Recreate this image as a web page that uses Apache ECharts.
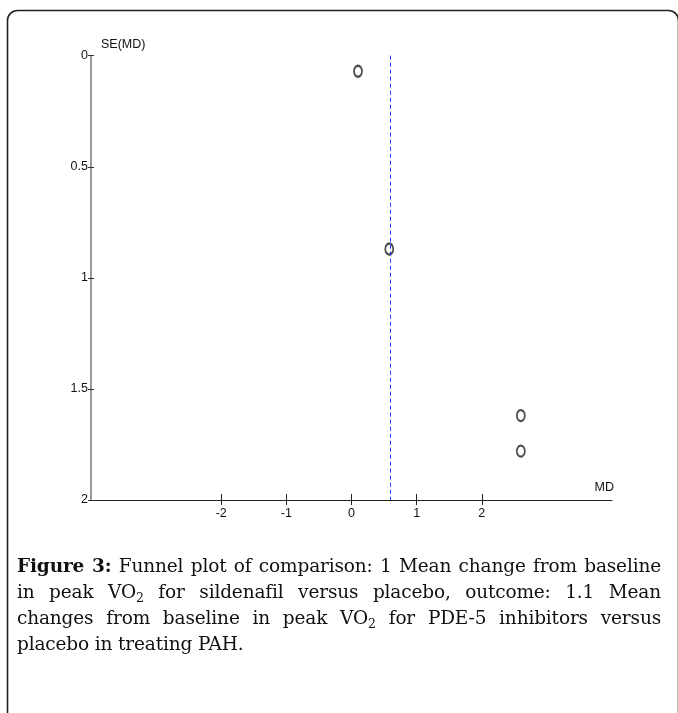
<!DOCTYPE html>
<html>
<head>
<meta charset="utf-8">
<script src="https://cdn.jsdelivr.net/npm/echarts@6/dist/echarts.min.js"></script>
<style>
  html, body { margin: 0; padding: 0; background: #fff; }
  #wrap { position: relative; width: 678px; height: 713px; overflow: hidden; }
  #chart { position: absolute; left: 0; top: 0; width: 678px; height: 713px; }
  #caption { position: absolute; left: 17px; top: 553px; width: 644px;
    font-family: "DejaVu Serif", "Liberation Serif", serif; font-size: 18.5px; line-height: 26px; color: #111; letter-spacing: -0.15px; }
  #caption .ln { text-align: justify; text-align-last: justify; display: block; white-space: nowrap; }
  #caption .last { text-align: left; text-align-last: left; }
  #caption sub { font-size: 0.68em; line-height: 0; vertical-align: -0.35em; }
</style>
</head>
<body>
<div id="wrap">
  <div id="chart"></div>
  <div id="caption">
    <div class="ln"><b>Figure 3:</b> Funnel plot of comparison: 1 Mean change from baseline</div>
    <div class="ln">in peak VO<sub>2</sub> for sildenafil versus placebo, outcome: 1.1 Mean</div>
    <div class="ln">changes from baseline in peak VO<sub>2</sub> for PDE-5 inhibitors versus</div>
    <div class="ln last">placebo in treating PAH.</div>
  </div>
</div>
<script>
// Study estimates: mean difference (MD) and its standard error SE(MD)
const md = [0.1, 0.58, 2.6, 2.6];
const se = [0.07, 0.87, 1.62, 1.78];
// Pooled (fixed-effect) mean difference shown as dashed line
const pooledMD = 0.6;
// Axis tick values
const xTicks = [-2, -1, 0, 1, 2];
const yTicks = [0, 0.5, 1, 1.5, 2];
const xRange = [-4, 4];
const yRange = [0, 2];

const points = md.map((v, i) => [v, se[i]]);
const axisFont = { fontFamily: "'Liberation Sans Narrow', 'Liberation Sans', Arial, sans-serif", fontSize: 12.5, color: '#111' };

const chart = echarts.init(document.getElementById('chart'), null, { renderer: 'canvas' });
chart.setOption({
  animation: false,
  backgroundColor: '#fff',
  grid: { left: 91, right: 66, top: 55.7, bottom: 213, containLabel: false },
  graphic: [{
    type: 'rect', left: 5, top: 8, silent: true, z: 0,
    shape: { x: 0, y: 0, width: 671, height: 740, r: 10 },
    style: { fill: 'none', stroke: '#222', lineWidth: 1.6 }
  }],
  xAxis: [{
    type: 'value', min: xRange[0], max: xRange[1], interval: 1, position: 'bottom',
    name: 'MD', nameLocation: 'end', nameGap: 2,
    nameTextStyle: Object.assign({}, axisFont, { align: 'right', verticalAlign: 'bottom', padding: [0, 0, 6, 0] }),
    axisLine: { show: true, onZero: false, lineStyle: { color: '#222', width: 1.2 } },
    axisTick: { show: true, inside: false, length: 5, customValues: xTicks, lineStyle: { color: '#222', width: 1 } },
    axisLabel: Object.assign({}, axisFont, { show: true, margin: 7, customValues: xTicks }),
    splitLine: { show: false }
  }, {
    type: 'value', min: xRange[0], max: xRange[1], interval: 1, position: 'bottom',
    axisLine: { show: false, onZero: false },
    axisTick: { show: true, inside: true, length: 6, customValues: xTicks, lineStyle: { color: '#222', width: 1 } },
    axisLabel: { show: false },
    splitLine: { show: false }
  }],
  yAxis: [{
    type: 'value', inverse: true, min: yRange[0], max: yRange[1], interval: 0.5, position: 'left',
    name: 'SE(MD)', nameLocation: 'start', nameGap: 3,
    nameTextStyle: Object.assign({}, axisFont, { align: 'left', verticalAlign: 'bottom', padding: [0, 0, 2, 10] }),
    axisLine: { show: true, onZero: false, lineStyle: { color: '#808080', width: 1.6 } },
    axisTick: { show: true, inside: false, length: 3, customValues: yTicks, lineStyle: { color: '#333', width: 1 } },
    axisLabel: Object.assign({}, axisFont, { show: true, margin: 3, customValues: yTicks,
      formatter: v => String(v) }),
    splitLine: { show: false }
  }, {
    type: 'value', inverse: true, min: yRange[0], max: yRange[1], interval: 0.5, position: 'left',
    axisLine: { show: false, onZero: false },
    axisTick: { show: true, inside: true, length: 3, customValues: yTicks, lineStyle: { color: '#333', width: 1 } },
    axisLabel: { show: false },
    splitLine: { show: false }
  }],
  series: [{
    type: 'scatter',
    xAxisIndex: 0, yAxisIndex: 0,
    data: points,
    symbol: 'emptyCircle',
    symbolSize: [8, 11],
    itemStyle: { color: '#222', borderColor: '#222', borderWidth: 0.8 },
    markLine: {
      silent: true, symbol: ['none', 'none'],
      label: { show: false },
      lineStyle: { color: '#1f3dff', type: [4, 3], width: 1 },
      data: [{ xAxis: pooledMD }]
    }
  }]
});
</script>
</body>
</html>
